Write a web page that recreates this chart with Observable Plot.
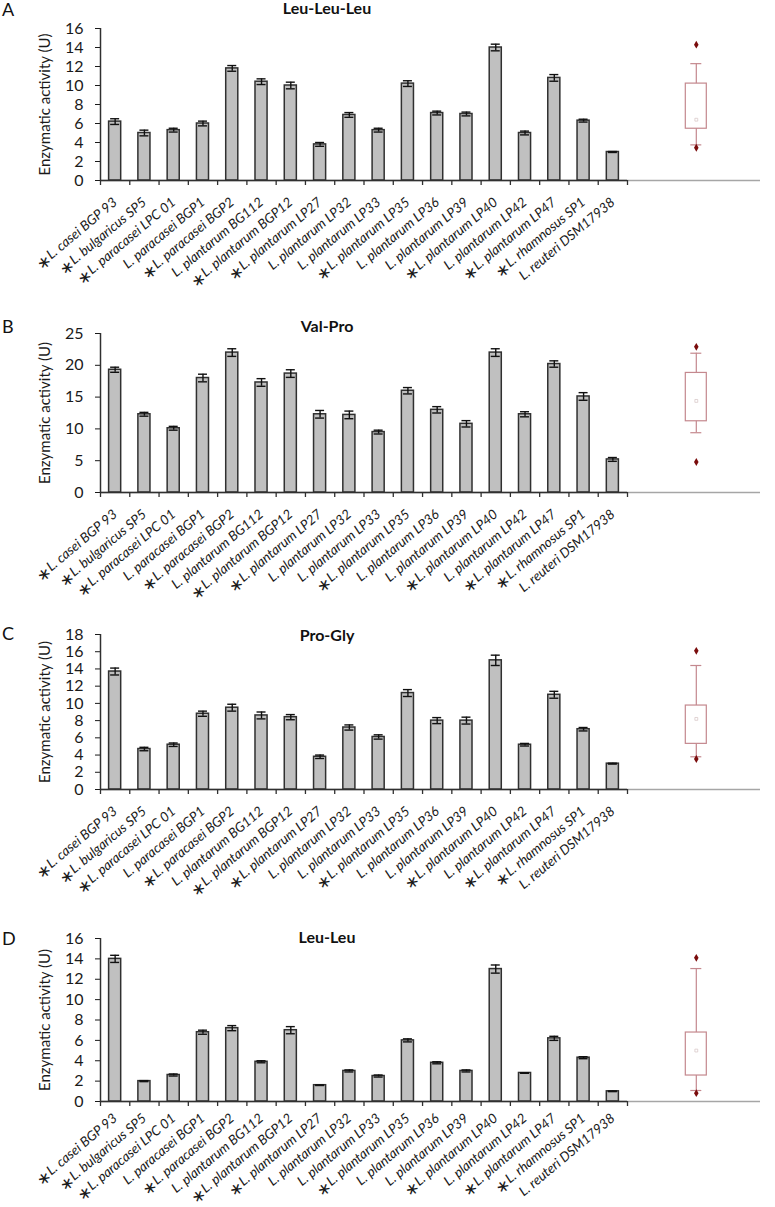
<!DOCTYPE html>
<html><head><meta charset="utf-8">
<script src="https://cdn.jsdelivr.net/npm/d3@7"></script>
<script src="https://cdn.jsdelivr.net/npm/@observablehq/plot@0.6"></script>
<style>
body{margin:0;background:#fff;}
#chart{width:775px;background:#fff;}
#chart svg{display:block;}
</style></head><body><div id="chart"></div>
<script>
// ---------- data ----------
const strains = ["L. casei BGP 93","L. bulgaricus SP5","L. paracasei LPC 01","L. paracasei BGP1","L. paracasei BGP2","L. plantarum BG112","L. plantarum BGP12","L. plantarum LP27","L. plantarum LP32","L. plantarum LP33","L. plantarum LP35","L. plantarum LP36","L. plantarum LP39","L. plantarum LP40","L. plantarum LP42","L. plantarum LP47","L. rhamnosus SP1","L. reuteri DSM17938"];
const starred = [1,1,1,0,1,0,1,1,0,0,1,0,0,1,0,1,1,0];

const leuLeuLeu    = [6.2,5.0,5.3,6.0,11.8,10.4,10.0,3.8,6.9,5.3,10.2,7.1,7.0,14.0,5.0,10.8,6.3,3.0];
const leuLeuLeuErr = [0.3,0.3,0.2,0.25,0.3,0.3,0.35,0.2,0.25,0.2,0.3,0.2,0.2,0.35,0.2,0.35,0.15,0.05];
const valPro       = [19.3,12.3,10.1,18.0,22.0,17.3,18.7,12.3,12.2,9.5,16.0,13.0,10.8,22.0,12.3,20.2,15.1,5.2];
const valProErr    = [0.4,0.3,0.3,0.6,0.6,0.6,0.6,0.6,0.6,0.3,0.5,0.5,0.5,0.6,0.4,0.5,0.6,0.3];
const proGly       = [13.7,4.7,5.2,8.8,9.5,8.6,8.4,3.8,7.2,6.1,11.2,8.0,8.0,15.0,5.2,11.0,7.0,3.0];
const proGlyErr    = [0.4,0.2,0.2,0.3,0.4,0.4,0.3,0.2,0.3,0.25,0.4,0.35,0.4,0.6,0.15,0.4,0.2,0.05];
const leuLeu       = [14.0,2.0,2.6,6.8,7.2,3.9,7.0,1.6,3.0,2.5,6.0,3.8,3.0,13.0,2.8,6.2,4.3,1.0];
const leuLeuErr    = [0.35,0.05,0.1,0.2,0.25,0.1,0.35,0.03,0.1,0.1,0.15,0.1,0.1,0.4,0.03,0.2,0.1,0.03];

const ticksA = [0,2,4,6,8,10,12,14,16];
const ticksB = [0,5,10,15,20,25];
const ticksC = [0,2,4,6,8,10,12,14,16,18];
const ticksD = [0,2,4,6,8,10,12,14,16];

// box-plot summaries
const boxA = {lo: 3.75, q1: 5.45, q3: 10.2, hi: 12.3, mid: 6.4, out: [14.3, 3.45]};
const boxB = {lo: 9.4, q1: 11.2, q3: 18.8, hi: 21.9, mid: 14.4, out: [22.9, 4.8]};
const boxC = {lo: 3.8, q1: 5.3, q3: 9.75, hi: 14.4, mid: 8.2, out: [16.1, 3.55]};
const boxD = {lo: 1.08, q1: 2.55, q3: 6.77, hi: 13.05, mid: 5.0, out: [14.1, 0.82]};

const yLabel = "Enzymatic activity (U)";

// ---------- layout ----------
const panels = [
  {letter: "A", title: "Leu-Leu-Leu", values: leuLeuLeu, errors: leuLeuLeuErr, domain: [0,16], ticks: ticksA, box: boxA,
   height: 295, mt: 28, mb: 115, titleY: 14, letterY: 16, labelDy: 20},
  {letter: "B", title: "Val-Pro", values: valPro, errors: valProErr, domain: [0,25], ticks: ticksB, box: boxB,
   height: 325, mt: 38, mb: 128, titleY: 37, letterY: 38, labelDy: 20},
  {letter: "C", title: "Pro-Gly", values: proGly, errors: proGlyErr, domain: [0,18], ticks: ticksC, box: boxC,
   height: 305, mt: 14, mb: 136, titleY: 21, letterY: 20, labelDy: 20},
  {letter: "D", title: "Leu-Leu", values: leuLeu, errors: leuLeuErr, domain: [0,16], ticks: ticksD, box: boxD,
   height: 282, mt: 13, mb: 106, titleY: 18, letterY: 20, labelDy: 15}
];
const boxPos = 20.35;
const boxColor = "#c4888e";
const axisColor = "#303030";
const ns = "http://www.w3.org/2000/svg";

function drawPanel(p) {
  const rows = strains.map((name, i) => ({i, name, v: p.values[i], e: p.errors[i]}));
  const boxRow = [{...p.box, x: boxPos}];
  const svg = Plot.plot({
    width: 775, height: p.height,
    marginLeft: 100, marginRight: 15, marginTop: p.mt, marginBottom: p.mb,
    style: {fontFamily: "Lato, sans-serif", fontSize: "16px", color: "#1a1a1a", background: "transparent", overflow: "visible"},
    x: {type: "linear", domain: [0, strains.length], range: [100, 627], axis: null},
    y: {domain: p.domain, ticks: p.ticks, tickSize: 5, tickPadding: 12, label: null, tickFormat: d3.format("d")},
    marks: [
      Plot.ruleY([0], {stroke: "#a6a6a6", strokeWidth: 1.5}),
      Plot.rectY(rows, {x1: "i", x2: d => d.i + 1, y: "v", insetLeft: 8.6, insetRight: 8.6,
        fill: "#c0c0c0", stroke: axisColor, strokeWidth: 1.5}),
      Plot.ruleX(rows, {x: d => d.i + 0.5, y1: d => d.v - d.e, y2: d => d.v + d.e, stroke: "#111", strokeWidth: 1.4}),
      Plot.ruleY(rows, {y: d => d.v + d.e, x1: d => d.i + 0.5, x2: d => d.i + 0.5, insetLeft: -4.5, insetRight: -4.5, stroke: "#111", strokeWidth: 1.4}),
      Plot.ruleY(rows, {y: d => d.v - d.e, x1: d => d.i + 0.5, x2: d => d.i + 0.5, insetLeft: -4.5, insetRight: -4.5, stroke: "#111", strokeWidth: 1.4}),
      Plot.ruleY([0], {x1: 0, x2: strains.length, stroke: axisColor, strokeWidth: 1.5}),
      Plot.ruleX([0], {stroke: axisColor, strokeWidth: 1.5}),
      Plot.ruleX(d3.range(strains.length + 1), {x: d => d, y1: 0, y2: 0, insetBottom: -5, stroke: axisColor, strokeWidth: 1.3}),
      // box plot
      Plot.ruleX(boxRow, {x: "x", y1: "lo", y2: "hi", stroke: boxColor, strokeWidth: 1.2}),
      Plot.ruleY(boxRow, {y: "hi", x1: "x", x2: "x", insetLeft: -5.5, insetRight: -5.5, stroke: boxColor, strokeWidth: 1.2}),
      Plot.ruleY(boxRow, {y: "lo", x1: "x", x2: "x", insetLeft: -5.5, insetRight: -5.5, stroke: boxColor, strokeWidth: 1.2}),
      Plot.rect(boxRow, {x1: "x", x2: "x", y1: "q1", y2: "q3", insetLeft: -10.5, insetRight: -10.5, fill: "white", stroke: boxColor, strokeWidth: 1.2}),
      Plot.dot(boxRow, {x: "x", y: "mid", symbol: "square", r: 1.6, stroke: "#d9c9c9", fill: "none", strokeWidth: 0.8}),
      Plot.dot(p.box.out, {x: boxPos, y: d => d, symbol: "diamond", r: 2.4, fill: "#7a0c0c", stroke: "none"}),
      // labels
      Plot.text(rows, {x: d => d.i + 0.5, y: 0, text: "name", rotate: -40, textAnchor: "end", dx: 0, dy: p.labelDy,
        fontSize: 13.5, fontStyle: "italic", fill: "#1a1a1a", ariaDescription: "xlabels"}),
      Plot.text([yLabel], {frameAnchor: "left", textAnchor: "middle", rotate: -90, dx: -55, fontSize: 15, fill: "#1a1a1a"})
    ]
  });
  // stars before the marked strain names
  svg.querySelectorAll('g[aria-description="xlabels"] text').forEach((t, k) => {
    if (!starred[k]) return;
    const name = t.textContent;
    t.textContent = "";
    const s = document.createElementNS(ns, "tspan");
    s.setAttribute("font-size", "17");
    s.setAttribute("font-style", "normal");
    s.setAttribute("font-family", "DejaVu Sans");
    s.setAttribute("dy", "3");
    s.textContent = "\u2217";
    const r = document.createElementNS(ns, "tspan");
    r.setAttribute("dy", "-3");
    r.setAttribute("dx", "0");
    r.textContent = name;
    t.appendChild(s); t.appendChild(r);
  });
  const sel = d3.select(svg);
  sel.append("text").attr("x", 2).attr("y", p.letterY).attr("text-anchor", "start").attr("font-size", 18).attr("fill", "#111")
    .attr("font-family", "Lato, sans-serif").text(p.letter);
  sel.append("text").attr("x", 327).attr("y", p.titleY).attr("text-anchor", "middle").attr("font-size", 16)
    .attr("font-weight", "bold").attr("fill", "#111").attr("font-family", "Lato, sans-serif").text(p.title);
  return svg;
}

const root = document.getElementById("chart");
panels.forEach(p => root.appendChild(drawPanel(p)));
</script>
</body></html>
